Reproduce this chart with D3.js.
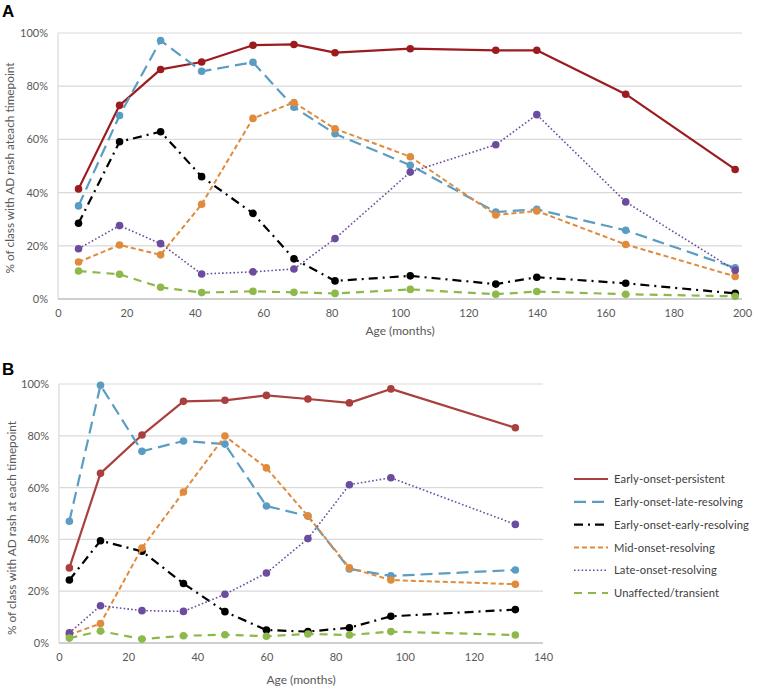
<!DOCTYPE html>
<html><head><meta charset="utf-8">
<script src="https://cdn.jsdelivr.net/npm/d3@7"></script>
<style>body{margin:0;background:#fff;} svg{display:block;font-family:Lato,"Open Sans",sans-serif;}</style>
</head><body>
<svg id="chart" width="759" height="695"></svg>
<script>
// ---------- DATA ----------
const seriesNames = ["Early-onset-persistent","Early-onset-late-resolving","Early-onset-early-resolving","Mid-onset-resolving","Late-onset-resolving","Unaffected/transient"];
const agesA = [6,18,30,42,57,69,81,103,128,140,166,198];
const persistentA = [41.4,72.8,86.3,89.1,95.4,95.7,92.6,94.1,93.5,93.5,77.0,48.7];
const lateResolvingA = [35.0,69.0,97.2,85.6,89.0,72.1,62.1,50.3,32.7,33.7,25.8,11.7];
const earlyResolvingA = [28.5,59.1,62.9,46.0,32.2,15.1,6.8,8.7,5.6,8.2,5.9,2.1];
const midOnsetA = [13.9,20.3,16.6,35.6,67.9,73.9,64.0,53.5,31.6,33.1,20.5,8.5];
const lateOnsetA = [18.9,27.6,20.8,9.4,10.2,11.3,22.7,47.7,58.0,69.3,36.5,10.8];
const unaffectedA = [10.5,9.3,4.4,2.4,2.9,2.5,2.1,3.6,1.8,2.8,1.8,1.0];

const agesB = [3,12,24,36,48,60,72,84,96,132];
const persistentB = [29.0,65.5,80.3,93.3,93.7,95.6,94.2,92.7,98.1,83.1];
const lateResolvingB = [47.0,99.5,74.0,78.0,76.8,52.9,49.0,28.6,25.9,28.2];
const earlyResolvingB = [24.3,39.5,35.4,23.0,12.1,5.0,4.4,5.9,10.3,12.9];
const midOnsetB = [3.2,7.5,36.7,58.3,79.9,67.6,49.0,29.0,24.3,22.7];
const lateOnsetB = [3.9,14.4,12.5,12.2,18.8,27.0,40.3,61.1,63.8,45.8];
const unaffectedB = [1.9,4.6,1.5,2.8,3.2,2.6,3.5,3.1,4.4,3.1];

const xTicksA = [0,20,40,60,80,100,120,140,160,180,200];
const xTicksB = [0,20,40,60,80,100,120,140];
const yTicks = [0,20,40,60,80,100];

// ---------- STYLES ----------
const styles = [
  {colorA:"#9c1b1f", colorB:"#a9403e", width:2.2, dash:null},
  {colorA:"#5b9dc2", colorB:"#5b9dc2", width:2.2, dash:"12,6"},
  {colorA:"#000000", colorB:"#000000", width:2.2, dash:"9,5,2,5"},
  {colorA:"#e08b3c", colorB:"#e08b3c", width:2, dash:"5,3"},
  {colorA:"#6b4c9e", colorB:"#6b4c9e", width:1.6, dash:"1.6,2.2"},
  {colorA:"#8db84a", colorB:"#8db84a", width:2.2, dash:"8,6"}
];

const svg = d3.select("#chart");

function panel(cfg){
  const g = svg.append("g");
  const x = d3.scaleLinear().domain(cfg.xDomain).range([cfg.left, cfg.right]);
  const y = d3.scaleLinear().domain([0,100]).range([cfg.bottom, cfg.top]);
  g.selectAll("line.grid").data(yTicks.filter(d=>d>0)).join("line")
    .attr("x1",cfg.left).attr("x2",cfg.right)
    .attr("y1",d=>y(d)).attr("y2",d=>y(d))
    .attr("stroke","#d9d9d9").attr("stroke-width",1.2);
  g.append("line").attr("x1",cfg.left).attr("x2",cfg.left).attr("y1",cfg.top).attr("y2",cfg.bottom)
    .attr("stroke","#d9d9d9").attr("stroke-width",1.2);
  g.append("line").attr("x1",cfg.left).attr("x2",cfg.right).attr("y1",cfg.bottom).attr("y2",cfg.bottom)
    .attr("stroke","#bfbfbf").attr("stroke-width",1.4);
  const yAxis = d3.axisLeft(y).tickValues(yTicks).tickFormat(d=>d+"%").tickSize(0).tickPadding(10);
  const ya = g.append("g").attr("transform",`translate(${cfg.left},0)`).call(yAxis);
  ya.select(".domain").remove();
  ya.selectAll("text").attr("fill","#595959").style("font-size","11px").style("font-family","Lato,sans-serif");
  const xAxis = d3.axisBottom(x).tickValues(cfg.xTicks).tickSize(0).tickPadding(10);
  const xa = g.append("g").attr("transform",`translate(0,${cfg.bottom})`).call(xAxis);
  xa.select(".domain").remove();
  xa.selectAll("text").attr("fill","#595959").style("font-size","11px").style("font-family","Lato,sans-serif");
  g.append("text").attr("x",(cfg.left+cfg.right)/2).attr("y",cfg.xTitleY).attr("text-anchor","middle")
    .attr("fill","#595959").style("font-size","12px").text("Age (months)");
  g.append("text").attr("transform",`translate(${cfg.yTitleX},${cfg.yTitleCY}) rotate(-90)`)
    .attr("text-anchor","middle").attr("fill","#595959").style("font-size","11.8px").text(cfg.yTitle);
  g.append("text").attr("x",2).attr("y",cfg.letterY).attr("font-weight","bold")
    .style("font-family","'Liberation Sans',Arial,sans-serif").style("font-size","17px").attr("fill","#000").text(cfg.letter);
  const line = d3.line().x(d=>x(d[0])).y(d=>y(d[1]));
  cfg.series.forEach((vals,i)=>{
    const st = styles[i];
    const col = cfg.letter==="A"?st.colorA:st.colorB;
    const pts = cfg.ages.map((a,j)=>[a,vals[j]]);
    g.append("path").datum(pts).attr("d",line).attr("fill","none")
      .attr("stroke",col).attr("stroke-width",st.width)
      .attr("stroke-dasharray",st.dash).attr("stroke-linejoin","round");
    g.selectAll(null).data(pts).join("circle")
      .attr("cx",d=>x(d[0])).attr("cy",d=>y(d[1])).attr("r",3.8).attr("fill",col);
  });
  return {x,y};
}

panel({letter:"A", letterY:17, left:58, right:742, top:33, bottom:299, xDomain:[0,200], xTicks:xTicksA,
  ages:agesA, series:[persistentA,lateResolvingA,earlyResolvingA,midOnsetA,lateOnsetA,unaffectedA],
  xTitleY:335, yTitleX:14, yTitleCY:168, yTitle:"% of class with AD rash ateach timepoint"});
panel({letter:"B", letterY:375, left:59, right:543, top:384, bottom:643, xDomain:[0,140], xTicks:xTicksB,
  ages:agesB, series:[persistentB,lateResolvingB,earlyResolvingB,midOnsetB,lateOnsetB,unaffectedB],
  xTitleY:684, yTitleX:16, yTitleCY:528, yTitle:"% of class with AD rash at each timepoint"});

const leg = svg.append("g");
seriesNames.forEach((name,i)=>{
  const st = styles[i];
  const yy = 479 + i*22.8;
  leg.append("line").attr("x1",574).attr("x2",608).attr("y1",yy).attr("y2",yy)
    .attr("stroke",st.colorB).attr("stroke-width",st.width).attr("stroke-dasharray",st.dash);
  leg.append("text").attr("x",614).attr("y",yy+4.2).attr("fill","#404040")
    .style("font-size","11.2px").style("letter-spacing","0.1px").text(name);
});
</script>
</body></html>
